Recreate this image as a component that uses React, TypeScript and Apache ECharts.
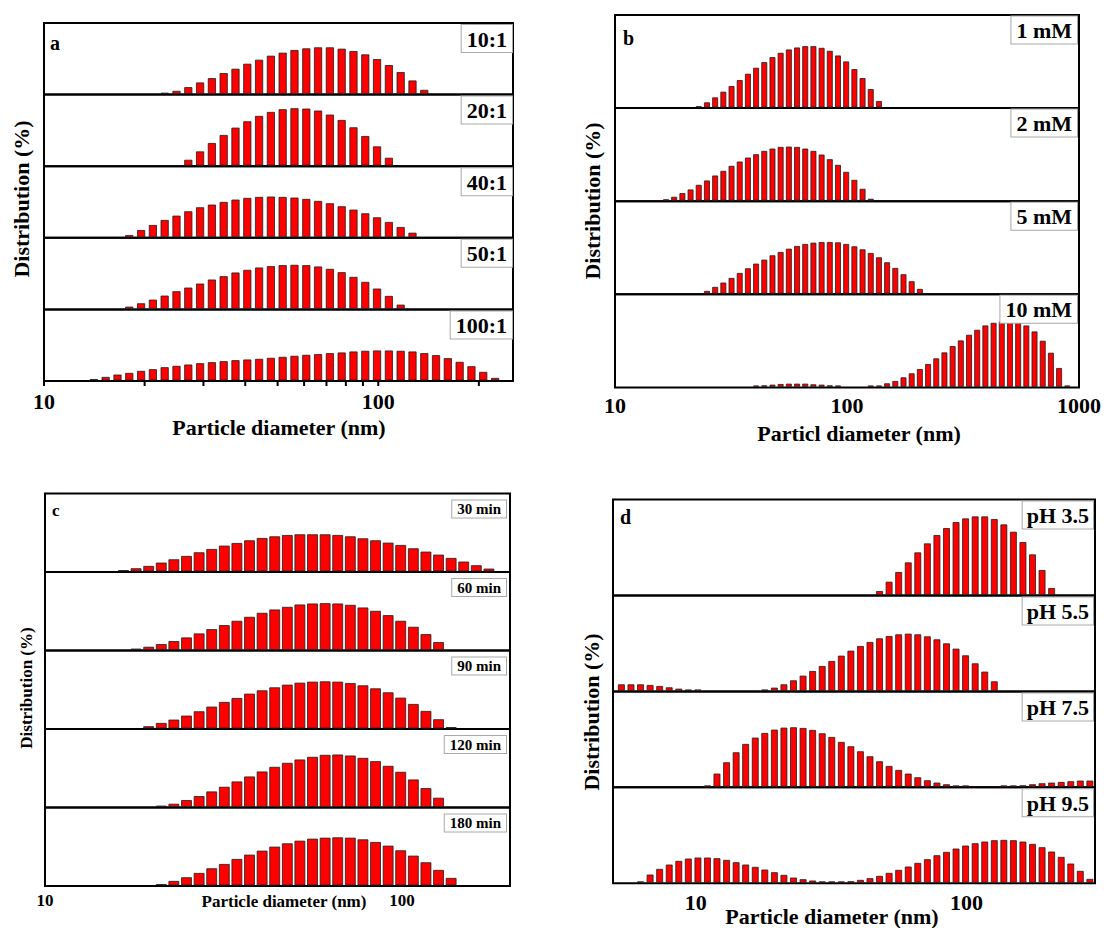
import React, { useEffect, useRef } from "react";
import * as echarts from "echarts";

// Size classes (nm) of the DLS histogram bars
const BINS = [5.316, 5.767, 6.255, 6.785, 7.36, 7.983, 8.659, 9.391, 10.19, 11.05, 11.98, 13.0,
  14.1, 15.29, 16.59, 17.99, 19.52, 21.17, 22.96, 24.91, 27.02, 29.31, 31.79, 34.48, 37.4, 40.57,
  44.0, 47.73, 51.76, 56.15, 60.91, 66.06, 71.66, 77.73, 84.31, 91.45, 99.17, 107.6, 116.7, 126.6,
  137.3, 148.9, 161.5, 175.2, 190.0, 206.1, 223.6, 242.5, 263.0, 285.3, 309.5, 335.7, 364.1, 394.9,
  428.4, 464.7, 504.0, 546.7, 592.9, 643.1, 697.6, 756.7, 820.7, 890.2];

// ---- Panel a ----
const A_LABELS = ["10:1", "20:1", "40:1", "50:1", "100:1"];
const A_START = [18, 20, 15, 15, 12];
const A_10 = [0.05, 0.5, 1.05, 1.75, 2.4, 3.15, 3.8, 4.55, 5.15, 5.75, 6.2, 6.6, 6.85, 7.0, 7.0, 6.8, 6.45, 5.95, 5.25, 4.35, 3.3, 2.05, 0.65];
const A_20 = [0.9, 2.15, 3.4, 4.6, 5.7, 6.65, 7.45, 8.05, 8.45, 8.6, 8.55, 8.25, 7.65, 6.85, 5.75, 4.45, 2.9, 1.2];
const A_40 = [0.35, 1.1, 1.85, 2.6, 3.25, 3.9, 4.5, 4.9, 5.3, 5.65, 5.9, 6.05, 6.1, 6.05, 5.95, 5.75, 5.45, 5.1, 4.65, 4.15, 3.6, 3.0, 2.3, 1.55, 0.7];
const A_50 = [0.35, 0.85, 1.4, 2.0, 2.65, 3.2, 3.8, 4.4, 4.9, 5.45, 5.85, 6.2, 6.4, 6.55, 6.6, 6.55, 6.35, 6.0, 5.5, 4.8, 4.05, 3.05, 1.95, 0.65];
const A_100 = [0.2, 0.55, 0.9, 1.15, 1.45, 1.7, 2.0, 2.2, 2.4, 2.6, 2.75, 2.9, 3.05, 3.15, 3.25, 3.4, 3.55, 3.7, 3.85, 3.95, 4.1, 4.2, 4.35, 4.45, 4.5, 4.5, 4.45, 4.35, 4.1, 3.8, 3.35, 2.8, 2.15, 1.3, 0.4];
const A_TICKS = [10, 20, 30, 40, 50, 60, 70, 80, 90, 100, 200];

// ---- Panel b ----
const B_LABELS = ["1 mM", "2 mM", "5 mM", "10 mM"];
const B_START = [18, 14, 19, 25];
const B_1 = [0.1, 0.8, 1.55, 2.4, 3.25, 4.15, 5.1, 6.0, 6.85, 7.6, 8.25, 8.75, 9.05, 9.25, 9.25, 9.0, 8.55, 7.85, 6.95, 5.8, 4.45, 2.8, 1.0];
const B_2 = [0.15, 0.6, 1.15, 1.7, 2.4, 3.05, 3.8, 4.5, 5.25, 5.9, 6.5, 7.0, 7.5, 7.85, 8.1, 8.15, 8.1, 7.85, 7.5, 6.95, 6.25, 5.4, 4.35, 3.15, 1.8, 0.3];
const B_5 = [0.45, 1.05, 1.7, 2.4, 3.15, 3.85, 4.55, 5.15, 5.8, 6.3, 6.8, 7.2, 7.5, 7.7, 7.8, 7.8, 7.75, 7.5, 7.15, 6.7, 6.15, 5.5, 4.75, 3.9, 2.95, 1.9, 0.75];
const B_10 = [0.1, 0.25, 0.35, 0.45, 0.5, 0.5, 0.5, 0.4, 0.35, 0.25, 0.15, 0, 0, 0, 0.05, 0.2, 0.55, 0.9, 1.45, 2.05, 2.7, 3.45, 4.3, 5.2, 6.15, 7.0, 7.85, 8.6, 9.25, 9.65, 9.85, 10.0, 9.9, 9.25, 8.35, 6.95, 5.15, 2.85, 0.1];

// ---- Panel c ----
const C_LABELS = ["30 min", "60 min", "90 min", "120 min", "180 min"];
const C_START = [14, 15, 16, 17, 17];
const C_30 = [0.15, 0.5, 0.85, 1.35, 1.85, 2.35, 2.9, 3.4, 3.9, 4.3, 4.7, 5.05, 5.3, 5.5, 5.6, 5.6, 5.6, 5.5, 5.3, 5.0, 4.7, 4.35, 4.0, 3.5, 3.0, 2.55, 2.05, 1.5, 0.95, 0.45];
const C_60 = [0.15, 0.5, 0.9, 1.35, 1.9, 2.5, 3.15, 3.75, 4.4, 5.0, 5.6, 6.1, 6.5, 6.85, 7.0, 7.05, 7.0, 6.8, 6.4, 5.9, 5.25, 4.4, 3.5, 2.4, 1.2];
const C_90 = [0.35, 0.85, 1.35, 1.95, 2.6, 3.3, 4.0, 4.6, 5.25, 5.75, 6.2, 6.6, 6.9, 7.05, 7.1, 7.05, 6.85, 6.5, 6.05, 5.45, 4.65, 3.7, 2.65, 1.4, 0.05];
const C_120 = [0.1, 0.5, 1.05, 1.65, 2.35, 3.05, 3.85, 4.6, 5.35, 6.05, 6.65, 7.15, 7.55, 7.85, 7.9, 7.75, 7.4, 6.9, 6.2, 5.3, 4.15, 2.85, 1.4];
const C_180 = [0.2, 0.7, 1.25, 1.9, 2.6, 3.25, 4.0, 4.65, 5.25, 5.85, 6.35, 6.75, 7.05, 7.2, 7.25, 7.2, 6.95, 6.55, 6.0, 5.3, 4.5, 3.5, 2.35, 1.15];

// ---- Panel d ----
const D_LABELS = ["pH 3.5", "pH 5.5", "pH 7.5", "pH 9.5"];
const D_START = [27, 0, 9, 2];
const D_35 = [0.6, 2.0, 3.45, 4.9, 6.4, 7.75, 9.0, 10.05, 10.95, 11.5, 11.8, 11.8, 11.4, 10.6, 9.5, 7.95, 6.1, 3.75, 1.05];
const D_55 = [1.0, 1.0, 1.0, 0.9, 0.75, 0.55, 0.35, 0.15, 0.05, 0, 0, 0, 0, 0, 0, 0.15, 0.5, 1.0, 1.6, 2.3, 3.0, 3.75, 4.5, 5.3, 6.05, 6.75, 7.35, 7.9, 8.25, 8.5, 8.6, 8.5, 8.2, 7.75, 7.15, 6.35, 5.35, 4.15, 2.9, 1.45];
const D_75 = [0.05, 2.0, 3.7, 5.2, 6.45, 7.4, 8.1, 8.6, 8.9, 8.95, 8.85, 8.55, 8.05, 7.5, 6.75, 6.1, 5.35, 4.6, 3.85, 3.15, 2.55, 2.0, 1.45, 1.0, 0.65, 0.4, 0.2, 0.1, 0, 0, 0, 0.05, 0.15, 0.25, 0.4, 0.55, 0.65, 0.75, 0.85, 0.95, 0.95];
const D_95 = [0.15, 1.25, 2.1, 2.75, 3.3, 3.65, 3.8, 3.8, 3.7, 3.45, 3.1, 2.75, 2.4, 2.0, 1.6, 1.2, 0.8, 0.55, 0.35, 0.2, 0.15, 0.15, 0.25, 0.45, 0.7, 1.05, 1.5, 1.95, 2.45, 3.0, 3.55, 4.15, 4.65, 5.15, 5.6, 5.95, 6.2, 6.4, 6.45, 6.4, 6.2, 5.85, 5.35, 4.7, 3.9, 2.9, 1.8, 0.6];

const FONT = "'Liberation Serif', 'Times New Roman', serif";

type Panel = {
  letter: string; labels: string[]; starts: number[]; series: number[][];
  min: number; max: number; yMax: number;
  left: number; right: number; top: number; subH: number; barFrac: number;
  tickFont: number; labelMargin: number; titleFont: number;
  xTitle: string; xTitlePos: [number, number]; yTitlePos: [number, number];
  letterPos: [number, number]; letterFont: number;
  boxFont: number; boxPad: number[]; boxDy: number; boxDx: number;
  ticks?: number[];
};

const PANELS: Panel[] = [
  {
    letter: "a", labels: A_LABELS, starts: A_START, series: [A_10, A_20, A_40, A_50, A_100],
    min: 10, max: 253, yMax: 10.7, left: 44, right: 513, top: 23, subH: 71.6, barFrac: 0.62,
    tickFont: 22, labelMargin: 9, titleFont: 22, xTitle: "Particle diameter (nm)",
    xTitlePos: [279, 427], yTitlePos: [21, 199], letterPos: [50, 43], letterFont: 20,
    boxFont: 22, boxPad: [3, 5, 2, 5], boxDy: 2, boxDx: 1, ticks: A_TICKS,
  },
  {
    letter: "b", labels: B_LABELS, starts: B_START, series: [B_1, B_2, B_5, B_10],
    min: 10, max: 1000, yMax: 14.0, left: 615, right: 1079, top: 15, subH: 93.1, barFrac: 0.62,
    tickFont: 22, labelMargin: 7, titleFont: 22, xTitle: "Particl diameter (nm)",
    xTitlePos: [859, 433], yTitlePos: [592, 201], letterPos: [623, 38], letterFont: 20,
    boxFont: 22, boxPad: [3, 5, 2, 5], boxDy: 1.5, boxDx: 2,
  },
  {
    letter: "c", labels: C_LABELS, starts: C_START, series: [C_30, C_60, C_90, C_120, C_180],
    min: 10, max: 200.7, yMax: 11.8, left: 45, right: 510, top: 493.5, subH: 78.5, barFrac: 0.79,
    tickFont: 17, labelMargin: 6, titleFont: 17, xTitle: "Particle diameter (nm)",
    xTitlePos: [284, 901], yTitlePos: [26, 688], letterPos: [52, 510], letterFont: 17,
    boxFont: 15, boxPad: [1, 5, 1, 5], boxDy: 7, boxDx: 4,
  },
  {
    letter: "d", labels: D_LABELS, starts: D_START, series: [D_35, D_55, D_75, D_95],
    min: 4.95, max: 298, yMax: 14.4, left: 613, right: 1095, top: 499.5, subH: 95.95, barFrac: 0.63,
    tickFont: 22, labelMargin: 8, titleFont: 22, xTitle: "Particle diameter (nm)",
    xTitlePos: [832, 916.5], yTitlePos: [591, 712], letterPos: [620, 517], letterFont: 20,
    boxFont: 22, boxPad: [3, 4, 2, 4], boxDy: 2, boxDx: 2,
  },
];

const powerOfTen = (v: number) => {
  const l = Math.log10(v);
  return Math.abs(l - Math.round(l)) < 1e-6 ? String(Math.round(v)) : "";
};

const makeBar = (frac: number) => (_params: any, api: any) => {
  const v = api.value(1);
  if (!(v > 0)) return null;
  const d = api.value(0);
  const idx = api.value(2);
  const top = api.coord([d, v]);
  const base = api.coord([d, 0]);
  const nb = idx + 1 < BINS.length ? BINS[idx + 1] : BINS[idx - 1];
  const pn = api.coord([nb, 0]);
  const w = Math.abs(pn[0] - top[0]) * frac;
  const h = Math.max(base[1] - 1 - top[1], 0.5);
  return {
    type: "rect",
    shape: { x: top[0] - w / 2, y: base[1] - 1 - h, width: w, height: h },
    style: { fill: "#ff0000", stroke: "#1e1e1e", lineWidth: 0.8 },
  };
};

// outward tick marks on the log axis (major and minor), placed by the axis scale
const tickItem = (_params: any, api: any) => {
  const p = api.coord([api.value(0), 0]);
  return {
    type: "rect",
    shape: { x: p[0] - 1, y: p[1], width: 2, height: 5 },
    style: { fill: "#000" },
  };
};

function buildOption() {
  const grid: any[] = [];
  const xAxis: any[] = [];
  const yAxis: any[] = [];
  const series: any[] = [];
  const graphic: any[] = [];

  PANELS.forEach((p) => {
    const n = p.series.length;
    p.series.forEach((vals, i) => {
      const gi = grid.length;
      const last = i === n - 1;
      const top = p.top + i * p.subH;
      const withTicks = last && !!p.ticks;
      grid.push({
        left: p.left, top, width: p.right - p.left, height: p.subH,
        show: true, borderColor: "#000", borderWidth: 2, backgroundColor: "rgba(0,0,0,0)",
        containLabel: false, outerBoundsMode: "none",
      });
      xAxis.push({
        type: "log", logBase: 10, gridIndex: gi, min: p.min, max: p.max, show: last,
        axisLine: { show: false }, splitLine: { show: false },
        axisTick: { show: false },
        axisLabel: {
          show: last, margin: p.labelMargin, formatter: powerOfTen, color: "#000",
          fontFamily: FONT, fontWeight: "bold", fontSize: p.tickFont,
        },
      });
      yAxis.push({ type: "value", gridIndex: gi, min: 0, max: p.yMax, show: false });
      const start = p.starts[i];
      series.push({
        type: "custom", xAxisIndex: gi, yAxisIndex: gi, silent: true, clip: false,
        renderItem: makeBar(p.barFrac), encode: { x: 0, y: 1 },
        data: vals.map((v, j) => [BINS[start + j], v, start + j]),
      });
      if (withTicks) {
        series.push({
          type: "custom", xAxisIndex: gi, yAxisIndex: gi, silent: true, clip: false, z: 10,
          renderItem: tickItem, encode: { x: 0, y: 1 },
          data: (p.ticks as number[]).map((t) => [t, 1]),
        });
      }
      graphic.push({
        type: "text", z: 100, x: p.right - p.boxDx, y: top + p.boxDy,
        style: {
          text: p.labels[i], font: `bold ${p.boxFont}px ${FONT}`, fill: "#000",
          align: "right", verticalAlign: "top", backgroundColor: "#fff",
          borderColor: "#a8a8a8", borderWidth: 1, padding: p.boxPad,
        },
      });
    });
    graphic.push({
      type: "text", z: 100, x: p.letterPos[0], y: p.letterPos[1],
      style: { text: p.letter, font: `bold ${p.letterFont}px ${FONT}`, fill: "#000", align: "left", verticalAlign: "middle" },
    });
    graphic.push({
      type: "text", z: 100, x: p.xTitlePos[0], y: p.xTitlePos[1],
      style: { text: p.xTitle, font: `bold ${p.titleFont}px ${FONT}`, fill: "#000", align: "center", verticalAlign: "middle" },
    });
    graphic.push({
      type: "text", z: 100, x: p.yTitlePos[0], y: p.yTitlePos[1], rotation: Math.PI / 2,
      style: { text: "Distribution (%)", font: `bold ${p.titleFont}px ${FONT}`, fill: "#000", align: "center", verticalAlign: "middle" },
    });
  });

  return { animation: false, backgroundColor: "#fff", grid, xAxis, yAxis, series, graphic };
}

export default function App() {
  const ref = useRef<HTMLDivElement>(null);
  useEffect(() => {
    if (!ref.current) return;
    const chart = echarts.init(ref.current, undefined, { renderer: "svg" });
    chart.setOption(buildOption());
    return () => chart.dispose();
  }, []);
  return (
    <div
      ref={ref}
      style={{ position: "fixed", left: 0, top: 0, width: 1107, height: 928, background: "#fff" }}
    />
  );
}
